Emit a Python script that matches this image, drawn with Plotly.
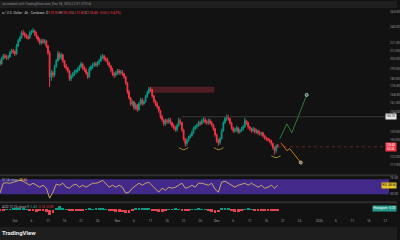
import math
import pandas as pd
import plotly.graph_objects as go

# ---------------- data ----------------
CANDLE_START = "2025-09-26 12:00"
CANDLE_FREQ = "12h"

OPEN = [
    201.0, 197.9, 203.1, 206.3, 205.2, 204.2, 205.2, 209.6, 211.8, 210.7,
    208.5, 217.3, 223.1, 226.6, 232.6, 231.4, 229.0, 227.8, 226.6, 232.6,
    233.9, 235.1, 231.4, 227.8, 224.3, 220.8, 223.1, 221.9, 223.1, 217.3,
    209.6, 184.9, 188.8, 186.8, 194.8, 201.0, 208.5, 204.2, 207.4, 201.0,
    195.8, 193.8, 190.7, 182.9, 185.8, 187.8, 189.8, 190.7, 192.7, 194.8,
    197.9, 193.8, 191.7, 188.8, 184.9, 192.7, 194.8, 196.8, 197.9, 196.8,
    198.9, 201.0, 205.2, 206.3, 203.1, 202.0, 198.9, 195.8, 191.7, 187.8,
    186.8, 188.8, 190.7, 188.8, 189.8, 187.8, 184.9, 179.2, 171.0, 165.7,
    160.6, 162.3, 157.3, 159.8, 155.7, 160.6, 164.0, 160.6, 162.3, 166.6,
    170.1, 173.7, 172.8, 167.5, 163.1, 160.6, 158.1, 154.9, 150.1, 147.8,
    144.7, 147.0, 146.3, 147.8, 145.5, 143.2, 141.8, 140.3, 143.2, 147.0,
    145.5, 140.3, 133.9, 130.5, 132.5, 134.6, 136.0, 138.1, 141.0, 142.5,
    143.2, 145.5, 144.7, 147.0, 147.8, 146.3, 145.5, 147.0, 145.5, 144.0,
    141.0, 136.7, 132.5, 131.1, 133.9, 139.6, 145.5, 148.6, 150.1, 148.6,
    145.5, 141.8, 139.6, 140.3, 141.8, 138.8, 139.6, 141.0, 142.5, 147.0,
    145.5, 142.5, 141.0, 139.6, 141.0, 138.8, 139.6, 138.1, 137.4, 138.1,
    136.0, 134.6, 133.9, 133.2, 132.5, 130.5, 127.8, 125.8, 129.0,
]
HIGH = [
    203.1, 205.2, 208.5, 208.5, 207.4, 207.4, 211.8, 214.0, 214.0, 212.9,
    219.6, 225.4, 229.0, 235.1, 236.3, 233.9, 231.4, 230.2, 235.1, 236.3,
    238.8, 236.3, 233.9, 229.0, 226.6, 225.4, 225.4, 225.4, 224.3, 218.5,
    211.8, 191.7, 190.7, 196.8, 203.1, 211.8, 210.7, 209.6, 208.5, 202.0,
    197.9, 194.8, 191.7, 187.8, 189.8, 191.7, 192.7, 194.8, 196.8, 200.0,
    198.9, 195.8, 193.8, 189.8, 194.8, 196.8, 198.9, 200.0, 200.0, 201.0,
    203.1, 207.4, 208.5, 207.4, 205.2, 204.2, 200.0, 196.8, 193.8, 189.8,
    190.7, 192.7, 192.7, 191.7, 191.7, 188.8, 185.8, 180.1, 172.8, 166.6,
    164.0, 163.1, 161.4, 160.6, 162.3, 165.7, 165.7, 164.0, 168.3, 171.9,
    175.5, 175.5, 173.7, 168.3, 164.0, 162.3, 158.9, 155.7, 151.7, 148.6,
    148.6, 148.6, 149.3, 149.3, 146.3, 144.7, 143.2, 144.7, 149.3, 148.6,
    146.3, 141.0, 134.6, 133.9, 136.0, 137.4, 139.6, 142.5, 144.0, 144.7,
    147.0, 147.0, 148.6, 150.1, 149.3, 147.8, 148.6, 148.6, 147.0, 144.7,
    141.8, 137.4, 133.9, 135.3, 141.0, 147.0, 150.1, 151.7, 151.7, 149.3,
    146.3, 142.5, 141.8, 143.2, 142.5, 141.0, 142.5, 144.0, 149.3, 147.8,
    146.3, 143.2, 141.8, 142.5, 141.8, 141.0, 140.3, 139.6, 138.8, 138.8,
    136.7, 135.3, 134.6, 133.9, 133.2, 131.1, 128.4, 130.0, 130.3,
]
LOW = [
    195.8, 196.8, 202.0, 203.1, 202.0, 202.0, 204.2, 208.5, 208.5, 206.3,
    207.4, 216.2, 221.9, 225.4, 229.0, 226.6, 225.4, 224.3, 225.4, 230.2,
    232.6, 229.0, 225.4, 221.9, 218.5, 218.5, 219.6, 219.6, 215.1, 207.4,
    175.5, 181.0, 183.9, 184.9, 193.8, 200.0, 202.0, 202.0, 198.9, 193.8,
    191.7, 188.8, 181.0, 181.0, 183.9, 185.8, 187.8, 188.8, 190.7, 193.8,
    191.7, 189.8, 186.8, 182.9, 183.9, 190.7, 192.7, 194.8, 194.8, 194.8,
    196.8, 200.0, 203.1, 201.0, 200.0, 196.8, 193.8, 189.8, 185.8, 183.9,
    184.9, 186.8, 186.8, 186.8, 185.8, 182.9, 177.3, 169.2, 164.0, 158.9,
    158.9, 155.7, 155.7, 154.1, 154.9, 159.8, 158.9, 159.8, 161.4, 165.7,
    169.2, 171.0, 165.7, 161.4, 158.9, 156.5, 153.3, 148.6, 146.3, 143.2,
    143.2, 144.7, 144.7, 144.0, 141.8, 140.3, 138.8, 138.8, 142.5, 144.0,
    138.8, 132.5, 128.4, 129.1, 131.8, 133.9, 135.3, 137.4, 140.3, 141.0,
    142.5, 143.2, 144.0, 145.5, 144.7, 144.0, 144.0, 144.0, 142.5, 139.6,
    135.3, 131.1, 129.1, 129.8, 133.2, 138.8, 144.7, 147.0, 147.0, 144.0,
    140.3, 138.1, 138.1, 138.8, 137.4, 137.4, 138.8, 139.6, 141.8, 144.0,
    141.0, 139.6, 138.1, 138.8, 137.4, 137.4, 136.7, 136.0, 136.0, 134.6,
    133.2, 132.5, 131.8, 131.1, 129.1, 126.4, 123.2, 124.5, 127.8,
]
CLOSE = [
    197.9, 203.1, 206.3, 205.2, 204.2, 205.2, 209.6, 211.8, 210.7, 208.5,
    217.3, 223.1, 226.6, 232.6, 231.4, 229.0, 227.8, 226.6, 232.6, 233.9,
    235.1, 231.4, 227.8, 224.3, 220.8, 223.1, 221.9, 223.1, 217.3, 209.6,
    184.9, 188.8, 186.8, 194.8, 201.0, 208.5, 204.2, 207.4, 201.0, 195.8,
    193.8, 190.7, 182.9, 185.8, 187.8, 189.8, 190.7, 192.7, 194.8, 197.9,
    193.8, 191.7, 188.8, 184.9, 192.7, 194.8, 196.8, 197.9, 196.8, 198.9,
    201.0, 205.2, 206.3, 203.1, 202.0, 198.9, 195.8, 191.7, 187.8, 186.8,
    188.8, 190.7, 188.8, 189.8, 187.8, 184.9, 179.2, 171.0, 165.7, 160.6,
    162.3, 157.3, 159.8, 155.7, 160.6, 164.0, 160.6, 162.3, 166.6, 170.1,
    173.7, 172.8, 167.5, 163.1, 160.6, 158.1, 154.9, 150.1, 147.8, 144.7,
    147.0, 146.3, 147.8, 145.5, 143.2, 141.8, 140.3, 143.2, 147.0, 145.5,
    140.3, 133.9, 130.5, 132.5, 134.6, 136.0, 138.1, 141.0, 142.5, 143.2,
    145.5, 144.7, 147.0, 147.8, 146.3, 145.5, 147.0, 145.5, 144.0, 141.0,
    136.7, 132.5, 131.1, 133.9, 139.6, 145.5, 148.6, 150.1, 148.6, 145.5,
    141.8, 139.6, 140.3, 141.8, 138.8, 139.6, 141.0, 142.5, 147.0, 145.5,
    142.5, 141.0, 139.6, 141.0, 138.8, 139.6, 138.1, 137.4, 138.1, 136.0,
    134.6, 133.9, 133.2, 132.5, 130.5, 127.8, 125.8, 129.0, 128.4,
]

IND_START = "2025-09-26 12:00"
IND_FREQ = "1D"
RSI = [
    32.7, 59.3, 60.7, 59.3, 62.0, 64.7, 67.3, 64.7, 59.3, 54.0,
    59.3, 54.0, 48.7, 54.0, 46.0, 19.3, 35.3, 56.7, 54.0, 59.3,
    48.7, 46.0, 54.0, 56.7, 48.7, 54.0, 48.7, 54.0, 59.3, 59.3,
    62.0, 67.3, 56.7, 48.7, 54.0, 48.7, 54.0, 48.7, 32.7, 35.3,
    46.0, 54.0, 59.3, 54.0, 59.3, 62.0, 54.0, 46.0, 35.3, 46.0,
    40.7, 48.7, 46.0, 48.7, 54.0, 59.3, 46.0, 48.7, 54.0, 48.7,
    59.3, 59.3, 56.7, 54.0, 59.3, 43.3, 35.3, 62.0, 64.7, 59.3,
    54.0, 48.7, 54.0, 56.7, 59.3, 54.0, 59.3, 54.0, 48.7, 54.0,
    46.0, 48.7, 54.0, 46.0, 54.0,
]
MACD_HIST = [
    -0.6, -0.3, 0.3, 0.4, 0.6, 0.9, 1.1, 0.8, 0.3, -0.4,
    -0.6, -0.8, -0.6, -0.5, -1.0, -2.6, -1.5, 1.2, 1.8, 1.0,
    0.4, -0.5, -0.6, -0.3, -0.5, -0.4, 0.3, 0.5, 0.4, 0.5,
    0.6, 0.7, 0.3, -0.4, -0.7, -0.9, -1.0, -1.2, -1.7, -1.4,
    -0.5, 0.5, 0.8, 0.6, 0.7, 0.5, -0.3, -0.7, -1.0, -0.8,
    -0.6, 0.3, 0.4, 0.5, 0.4, -0.3, -0.6, -0.4, 0.3, 0.4,
    0.5, 0.4, 0.3, -0.3, -0.9, -1.3, -1.2, 0.6, 1.0, 0.8,
    -0.4, -1.0, -0.8, -0.3, 0.4, 0.5, 0.2, -0.3, -0.4, -0.5,
    -0.5, -0.4, -0.5, -0.6, -0.3,
]
RSI_UPPER = 70
RSI_LOWER = 30

ZONE_START = "2025-11-11 02:00"
ZONE_END = "2025-11-30 07:00"
ZONE_LOW = 170.1
ZONE_HIGH = 175.5

LEVEL_START = "2025-11-20 10:00"
LEVEL_PRICE = 150.1

BULL_DATES = ["2025-12-20 02:00", "2025-12-22 05:00", "2025-12-23 17:00", "2025-12-28 05:00"]
BULL_PRICES = [133.9, 144.7, 138.1, 168.3]
BEAR_DATES = ["2025-12-20 10:00", "2025-12-22 05:00", "2025-12-23 02:00", "2025-12-26 10:00"]
BEAR_PRICES = [131.1, 125.8, 127.1, 118.2]

ARC_CENTERS = ["2025-11-21 00:00", "2025-12-01 15:00", "2025-12-18 22:00"]
ARC_TOP = [127.8, 127.8, 122.5]
ARC_BOTTOM = [126.4, 126.4, 121.3]

PRICE_TICKS = [260, 240, 221, 212, 203, 193, 183, 176, 168, 161, 154, 139, 133, 122, 117]
TIME_TICK_DATES = ["2025-10-01", "2025-10-06", "2025-10-11", "2025-10-16", "2025-10-21",
                   "2025-10-26", "2025-11-01", "2025-11-06", "2025-11-11", "2025-11-16",
                   "2025-11-21", "2025-11-26", "2025-12-01", "2025-12-06", "2025-12-11",
                   "2025-12-16", "2025-12-21", "2025-12-26", "2026-01-01", "2026-01-06",
                   "2026-01-11", "2026-01-16", "2026-01-21"]
TIME_TICK_TEXT = ["Oct", "6", "11", "16", "21", "26", "Nov", "6", "11", "16", "21", "26",
                  "Dec", "6", "11", "16", "21", "26", "2026", "6", "11", "16", "21"]

X_START = "2025-09-26 12:00"
X_END = "2026-01-22 02:24"

# ---------------- styling ----------------
W, H = 400, 240
BG = "#121212"
BAR_BG = "#1e1e1e"
UP = "#089981"
DOWN = "#f23645"
FONT = "Roboto"


def py(px):
    return 1 - px / H


candle_t = pd.date_range(CANDLE_START, periods=len(CLOSE), freq=CANDLE_FREQ)
ind_t = pd.date_range(IND_START, periods=len(RSI), freq=IND_FREQ)

fig = go.Figure()

fig.add_trace(go.Candlestick(
    x=candle_t, open=OPEN, high=HIGH, low=LOW, close=CLOSE,
    increasing=dict(line=dict(color=UP, width=1), fillcolor=UP),
    decreasing=dict(line=dict(color=DOWN, width=1), fillcolor=DOWN),
    xaxis="x", yaxis="y", showlegend=False, hoverinfo="skip",
))

# horizontal level line
fig.add_trace(go.Scatter(x=[LEVEL_START, X_END], y=[LEVEL_PRICE, LEVEL_PRICE], mode="lines",
                         line=dict(color="#3a3a3a", width=1), xaxis="x", yaxis="y",
                         showlegend=False, hoverinfo="skip"))
# last price line
fig.add_trace(go.Scatter(x=[candle_t[-1], X_END], y=[CLOSE[-1], CLOSE[-1]], mode="lines",
                         line=dict(color="#6e1d24", width=1, dash="dot"), xaxis="x", yaxis="y",
                         showlegend=False, hoverinfo="skip"))
# projections
fig.add_trace(go.Scatter(x=BULL_DATES, y=BULL_PRICES, mode="lines+markers",
                         line=dict(color="#2f7a3c", width=1),
                         marker=dict(size=[0, 0, 0, 3], color="#2f7a3c"),
                         xaxis="x", yaxis="y", showlegend=False, hoverinfo="skip"))
fig.add_trace(go.Scatter(x=BEAR_DATES, y=BEAR_PRICES, mode="lines+markers",
                         line=dict(color="#c27a12", width=1),
                         marker=dict(size=[0, 0, 0, 3], color="#c27a12"),
                         xaxis="x", yaxis="y", showlegend=False, hoverinfo="skip"))
# arcs under the lows
for c, top, bot in zip(ARC_CENTERS, ARC_TOP, ARC_BOTTOM):
    ct = pd.Timestamp(c)
    half = pd.Timedelta(hours=34)
    fig.add_trace(go.Scatter(x=[ct - half, ct, ct + half], y=[top, bot, top], mode="lines",
                             line=dict(color="#9c8a2e", width=1, shape="spline"),
                             xaxis="x", yaxis="y", showlegend=False, hoverinfo="skip"))

# RSI
fig.add_trace(go.Scatter(x=ind_t, y=RSI, mode="lines", line=dict(color="#c4a66c", width=1),
                         xaxis="x2", yaxis="y2", showlegend=False, hoverinfo="skip"))
# MACD histogram
fig.add_trace(go.Bar(x=ind_t, y=MACD_HIST,
                     marker=dict(color=[UP if v >= 0 else "#e0444f" for v in MACD_HIST], line=dict(width=0)),
                     width=86400000 * 0.85, xaxis="x3", yaxis="y3", showlegend=False, hoverinfo="skip"))

XD = [0, 392 / W]
tickfont = dict(family=FONT, size=3.2, color="#9a9da6")
fig.update_layout(
    width=W, height=H, autosize=False,
    margin=dict(l=0, r=0, t=0, b=0, pad=0),
    paper_bgcolor=BG, plot_bgcolor="rgba(0,0,0,0)",
    font=dict(family=FONT, color="#b2b5be"),
    xaxis=dict(domain=XD, type="date", range=[X_START, X_END], anchor="y",
               showticklabels=False, showgrid=False, zeroline=False, rangeslider=dict(visible=False)),
    xaxis2=dict(domain=XD, type="date", range=[X_START, X_END], anchor="y2", matches="x",
                showticklabels=False, showgrid=False, zeroline=False),
    xaxis3=dict(domain=XD, type="date", range=[X_START, X_END], anchor="y3", matches="x",
                showgrid=False, zeroline=False, ticks="",
                tickvals=TIME_TICK_DATES, ticktext=TIME_TICK_TEXT, tickfont=tickfont,
                ticklabelstandoff=1),
    yaxis=dict(domain=[py(174), py(7)], type="log",
               range=[math.log10(111.2), math.log10(264.9)], side="right", anchor="x",
               showgrid=False, zeroline=False, ticks="",
               tickvals=PRICE_TICKS, ticktext=[f"{v:.2f}" for v in PRICE_TICKS], tickfont=tickfont),
    yaxis2=dict(domain=[py(201), py(176)], range=[11.3, 78], side="right", anchor="x2",
                showgrid=False, zeroline=False, ticks="",
                tickvals=[RSI_UPPER + 5, RSI_LOWER], ticktext=["75.00", "30.00"], tickfont=tickfont),
    yaxis3=dict(domain=[py(217), py(203)], range=[-3.5, 3.5], side="right", anchor="x3",
                showgrid=False, zeroline=False, showticklabels=False, ticks=""),
    bargap=0,
)

shapes = [
    dict(type="rect", xref="paper", yref="paper", x0=0, x1=1, y0=py(7), y1=1,
         fillcolor=BAR_BG, line=dict(width=0), layer="below"),
    dict(type="rect", xref="paper", yref="paper", x0=0, x1=1, y0=0, y1=py(227),
         fillcolor=BAR_BG, line=dict(width=0), layer="below"),
    dict(type="line", xref="paper", yref="paper", x0=0, x1=1, y0=py(175), y1=py(175),
         line=dict(color="#2e2e2e", width=2)),
    dict(type="line", xref="paper", yref="paper", x0=0, x1=1, y0=py(202), y1=py(202),
         line=dict(color="#2e2e2e", width=2)),
    dict(type="rect", xref="paper", yref="y2", x0=0, x1=XD[1], y0=RSI_LOWER, y1=RSI_UPPER,
         fillcolor="#43298a", line=dict(width=0), layer="below"),
    dict(type="rect", xref="x", yref="y", x0=ZONE_START, x1=ZONE_END, y0=ZONE_LOW, y1=ZONE_HIGH,
         fillcolor="#4e1c21", line=dict(width=0), layer="below"),
]
fig.update_layout(shapes=shapes)

red = "#f23645"
ann = [
    dict(x=0, y=py(3.5), xref="paper", yref="paper", xanchor="left", yanchor="middle",
         text="ris created with TradingView.com, Dec 18, 2025 22:31 UTC+4",
         font=dict(size=3.3, color="#8f929b", family=FONT), showarrow=False),
    dict(x=0, y=py(12), xref="paper", yref="paper", xanchor="left", yanchor="middle",
         text=("a / U.S. Dollar · 4h · Coinbase  "
               f"O<span style='color:{red}'>129.00</span> H<span style='color:{red}'>130.30</span> "
               f"L<span style='color:{red}'>127.80</span> C<span style='color:{red}'>128.40</span> "
               f"<span style='color:{red}'>−0.60 (−0.47%)</span>"),
         font=dict(size=3.3, color="#c8cad0", family=FONT), showarrow=False),
    dict(x=0, y=py(180), xref="paper", yref="paper", xanchor="left", yanchor="middle",
         text="SI 14 close <span style='color:#e6c229'>48.66</span>",
         font=dict(size=3.3, color="#b2b5be", family=FONT), showarrow=False),
    dict(x=0, y=py(206.5), xref="paper", yref="paper", xanchor="left", yanchor="middle",
         text=("ACD 12 26 close 9 <span style='color:#26a69a'>-2.43</span> "
               "<span style='color:#e0444f'>-2.13</span> <span style='color:#e0444f'>-0.30</span>"),
         font=dict(size=3.3, color="#b2b5be", family=FONT), showarrow=False),
    dict(x=0, y=py(232.5), xref="paper", yref="paper", xanchor="left", yanchor="middle",
         text="<b>TradingView</b>", font=dict(size=6, color="#e6e8ec", family=FONT), showarrow=False),
    dict(x=1, y=math.log10(LEVEL_PRICE), xref="paper", yref="y", xanchor="right", yanchor="middle",
         text=f"{LEVEL_PRICE:.2f}", bgcolor="#e4e4e4", borderpad=0.3,
         font=dict(size=2.8, color="#111111", family=FONT), showarrow=False),
    dict(x=1, y=math.log10(CLOSE[-1]), xref="paper", yref="y", xanchor="right", yanchor="middle",
         text=f"{CLOSE[-1]:.2f}<br>03:28", bgcolor=red, borderpad=0.3,
         font=dict(size=2.8, color="#ffffff", family=FONT), showarrow=False),
    dict(x=1, y=RSI[-1], xref="paper", yref="y2", xanchor="right", yanchor="middle",
         text="RSI  48.66", bgcolor="#e6c229", borderpad=0.3,
         font=dict(size=3.0, color="#111111", family=FONT), showarrow=False),
    dict(x=1, y=0.6, xref="paper", yref="y3", xanchor="right", yanchor="middle",
         text="Histogram  -0.30", bgcolor="#22998c", borderpad=0.3,
         font=dict(size=3.0, color="#ffffff", family=FONT), showarrow=False),
]
fig.update_layout(annotations=ann)

fig.write_html("out.html")
